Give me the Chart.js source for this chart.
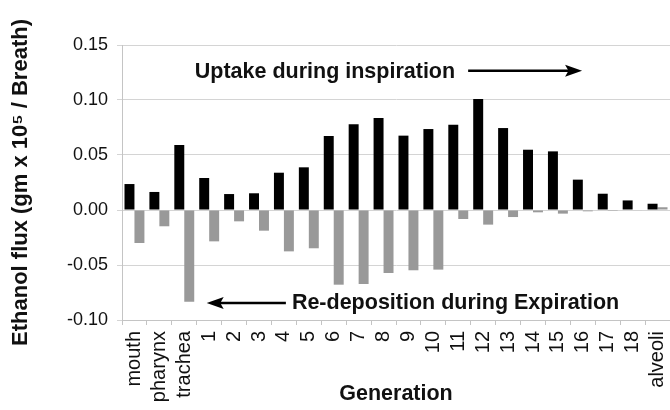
<!DOCTYPE html>
<html>
<head>
<meta charset="utf-8">
<script src="https://cdn.jsdelivr.net/npm/chart.js@4"></script>
<style>
  html, body { margin: 0; padding: 0; background: #fff; overflow: hidden; }
  #wrap { width: 670px; height: 410px; position: relative; }
</style>
</head>
<body>
<div id="wrap"><canvas id="c" width="670" height="410"></canvas></div>
<script>
const categories = ['mouth', 'pharynx', 'trachea', '1', '2', '3', '4', '5', '6', '7', '8', '9', '10', '11', '12', '13', '14', '15', '16', '17', '18', 'alveoli'];
const uptakeInspiration = [0.0236, 0.0164, 0.0591, 0.0291, 0.0145, 0.0152, 0.0339, 0.0388, 0.0673, 0.0779, 0.0836, 0.0676, 0.0736, 0.0776, 0.1009, 0.0745, 0.0548, 0.0533, 0.0276, 0.0148, 0.0087, 0.0057];
const redepositionExpiration = [-0.0300, -0.0148, -0.0833, -0.0285, -0.0103, -0.0188, -0.0376, -0.0348, -0.0679, -0.0673, -0.0573, -0.0548, -0.0542, -0.0082, -0.0133, -0.0064, -0.0021, -0.0033, -0.0012, -0.0008, -0.0005, 0.0025];
const yTicks = [-0.10, -0.05, 0.00, 0.05, 0.10, 0.15];
const yTitle = 'Ethanol flux (gm x 10\u2075 / Breath)';
const xTitle = 'Generation';
const noteUp = 'Uptake during inspiration';
const noteDown = 'Re-deposition during Expiration';

const FONT = "'Liberation Sans', Arial, Helvetica, sans-serif";

function arrow(ctx, x1, y, x2) {
  const dir = Math.sign(x2 - x1);
  const headLen = 17, headHalf = 6;
  ctx.save();
  ctx.strokeStyle = '#000';
  ctx.fillStyle = '#000';
  ctx.lineWidth = 2.5;
  ctx.beginPath();
  ctx.moveTo(x1, y);
  ctx.lineTo(x2 - dir * headLen * 0.6, y);
  ctx.stroke();
  ctx.beginPath();
  ctx.moveTo(x2, y);
  ctx.lineTo(x2 - dir * headLen, y - headHalf);
  ctx.lineTo(x2 - dir * headLen * 0.8, y);
  ctx.lineTo(x2 - dir * headLen, y + headHalf);
  ctx.closePath();
  ctx.fill();
  ctx.restore();
}

const notesPlugin = {
  id: 'notes',
  afterDraw(chart) {
    const ctx = chart.ctx;
    const xs = chart.scales.x, ys = chart.scales.y;
    ctx.save();
    ctx.font = 'bold 21.5px ' + FONT;
    ctx.fillStyle = '#111';
    ctx.textBaseline = 'middle';
    ctx.textAlign = 'left';
    const uy = ys.getPixelForValue(0.1257);
    const ux = xs.getPixelForValue(2.42);
    ctx.fillText(noteUp, ux, uy);
    const uw = ctx.measureText(noteUp).width;
    arrow(ctx, ux + uw + 13, uy - 1, xs.getPixelForValue(17.97));
    const ly = ys.getPixelForValue(-0.0845);
    const lx = xs.getPixelForValue(6.32);
    ctx.fillText(noteDown, lx, ly);
    arrow(ctx, lx - 6, ly, xs.getPixelForValue(2.9));
    ctx.restore();
  }
};

new Chart(document.getElementById('c'), {
  type: 'bar',
  data: {
    labels: categories,
    datasets: [
      { label: 'Uptake during inspiration', data: uptakeInspiration, backgroundColor: '#000000', categoryPercentage: 0.8, barPercentage: 1.0 },
      { label: 'Re-deposition during Expiration', data: redepositionExpiration, backgroundColor: '#999999', categoryPercentage: 0.8, barPercentage: 1.0 }
    ]
  },
  options: {
    responsive: false,
    animation: false,
    devicePixelRatio: 1,
    layout: { padding: { top: 45, right: 0, left: 0, bottom: 0 } },
    plugins: { legend: { display: false }, tooltip: { enabled: false } },
    scales: {
      x: {
        offset: true,
        grid: { display: true, drawOnChartArea: false, drawTicks: true, tickLength: 5, color: '#c4c4c4', offset: true },
        border: { display: true, color: '#c4c4c4' },
        ticks: {
          autoSkip: false, minRotation: 90, maxRotation: 90, padding: 6,
          color: '#111', font: { family: FONT, size: 20 }
        },
        title: { display: true, text: xTitle, color: '#111', font: { family: FONT, size: 21.5, weight: 'bold' }, padding: { top: 0, bottom: 3 } },
        afterFit(scale) { scale.height = 90; scale.paddingLeft = 0; scale.paddingRight = 0; }
      },
      y: {
        min: -0.10, max: 0.15,
        afterBuildTicks(scale) { scale.ticks = yTicks.map(v => ({ value: v })); },
        grid: { color: '#d4d4d4', tickLength: 5, drawTicks: true },
        border: { display: true, color: '#c4c4c4' },
        ticks: {
          padding: 9, color: '#111', font: { family: FONT, size: 18 },
          callback: v => (Math.abs(v) < 1e-9 ? 0 : v).toFixed(2)
        },
        title: { display: true, text: yTitle, color: '#111', font: { family: FONT, size: 22, weight: 'bold' }, padding: { top: 8, bottom: 0 } },
        afterFit(scale) { scale.width = 122; scale.paddingTop = 0; scale.paddingBottom = 0; }
      }
    }
  },
  plugins: [notesPlugin]
});
</script>
</body>
</html>
